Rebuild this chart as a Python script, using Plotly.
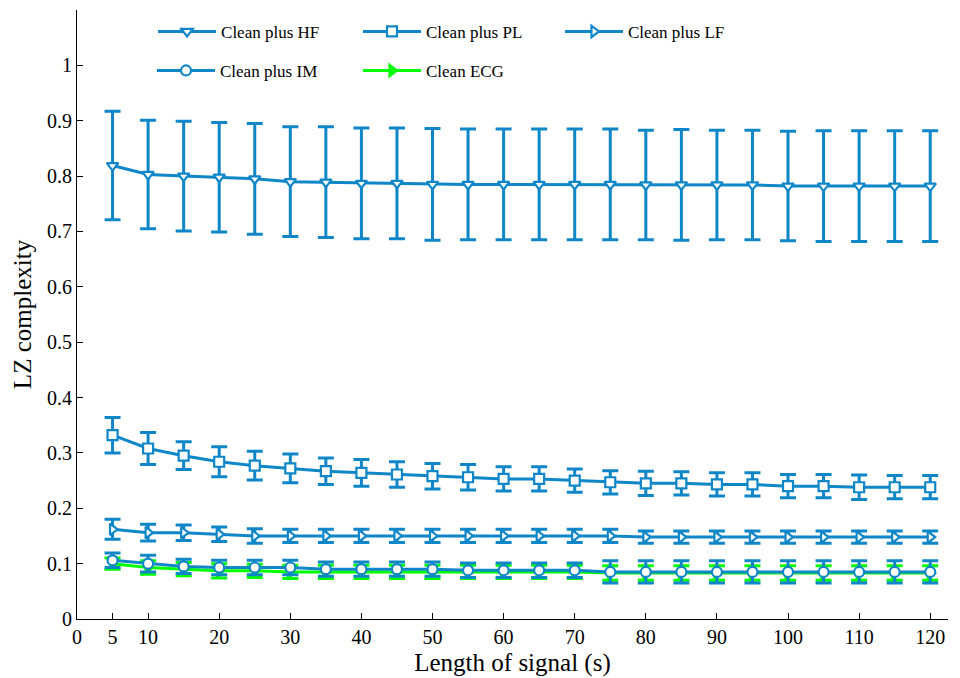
import plotly.graph_objects as go

lengths = [5, 10, 15, 20, 25, 30, 35, 40, 45, 50, 55, 60, 65, 70, 75, 80, 85, 90, 95, 100, 105, 110, 115, 120]

hf_mean = [0.819, 0.803, 0.800, 0.798, 0.795, 0.790, 0.789, 0.787, 0.787, 0.785, 0.785, 0.785, 0.785, 0.785, 0.785, 0.784, 0.784, 0.784, 0.784, 0.782, 0.782, 0.782, 0.782, 0.782]
hf_err = [0.098, 0.098, 0.099, 0.099, 0.100, 0.099, 0.100, 0.100, 0.100, 0.101, 0.100, 0.100, 0.100, 0.100, 0.100, 0.099, 0.100, 0.099, 0.099, 0.099, 0.100, 0.100, 0.100, 0.100]

pl_mean = [0.332, 0.308, 0.295, 0.284, 0.277, 0.272, 0.267, 0.264, 0.261, 0.258, 0.256, 0.253, 0.253, 0.250, 0.247, 0.245, 0.245, 0.243, 0.243, 0.240, 0.240, 0.238, 0.238, 0.238]
pl_err = [0.032, 0.029, 0.025, 0.027, 0.026, 0.026, 0.024, 0.024, 0.023, 0.023, 0.023, 0.022, 0.022, 0.021, 0.021, 0.022, 0.021, 0.021, 0.021, 0.021, 0.021, 0.022, 0.021, 0.021]

lf_mean = [0.162, 0.156, 0.156, 0.153, 0.150, 0.150, 0.150, 0.150, 0.150, 0.150, 0.150, 0.150, 0.150, 0.150, 0.150, 0.148, 0.148, 0.148, 0.148, 0.148, 0.148, 0.148, 0.148, 0.148]
lf_err = [0.018, 0.015, 0.014, 0.013, 0.013, 0.012, 0.012, 0.012, 0.012, 0.012, 0.012, 0.012, 0.012, 0.012, 0.012, 0.011, 0.011, 0.011, 0.011, 0.011, 0.011, 0.011, 0.011, 0.011]

im_mean = [0.106, 0.100, 0.095, 0.093, 0.093, 0.093, 0.090, 0.090, 0.090, 0.090, 0.088, 0.088, 0.088, 0.088, 0.085, 0.085, 0.085, 0.085, 0.085, 0.085, 0.085, 0.085, 0.085, 0.085]
im_err = [0.013, 0.015, 0.013, 0.013, 0.013, 0.013, 0.013, 0.013, 0.013, 0.013, 0.013, 0.013, 0.013, 0.013, 0.020, 0.020, 0.020, 0.020, 0.020, 0.020, 0.020, 0.020, 0.020, 0.020]

ecg_mean = [0.100, 0.093, 0.090, 0.087, 0.087, 0.085, 0.085, 0.085, 0.085, 0.085, 0.085, 0.085, 0.085, 0.085, 0.083, 0.083, 0.083, 0.083, 0.083, 0.083, 0.083, 0.083, 0.083, 0.083]
ecg_err = [0.010, 0.012, 0.012, 0.013, 0.012, 0.012, 0.012, 0.012, 0.012, 0.012, 0.012, 0.012, 0.012, 0.012, 0.013, 0.013, 0.013, 0.013, 0.013, 0.013, 0.013, 0.013, 0.013, 0.013]

x_ticks = [0, 5, 10, 20, 30, 40, 50, 60, 70, 80, 90, 100, 110, 120]
y_ticks = [0, 0.1, 0.2, 0.3, 0.4, 0.5, 0.6, 0.7, 0.8, 0.9, 1]
y_tick_labels = ["0", "0.1", "0.2", "0.3", "0.4", "0.5", "0.6", "0.7", "0.8", "0.9", "1"]

BLUE = "#0f86c8"
GREEN = "#00ff00"
FONT = "Liberation Serif"

fig = go.Figure()


def add(name, y, err, color, symbol, fill, legend):
    fig.add_trace(go.Scatter(
        x=lengths, y=y, name=name, mode="lines+markers",
        line=dict(color=color, width=3),
        marker=dict(symbol=symbol, size=10, color=fill, line=dict(color=color, width=2.2)),
        error_y=dict(type="data", array=err, visible=True, color=color, thickness=3, width=8),
        legend=legend,
    ))


add("Clean ECG", ecg_mean, ecg_err, GREEN, "triangle-right", GREEN, "legend5")
add("Clean plus HF", hf_mean, hf_err, BLUE, "triangle-down", "white", "legend")
add("Clean plus PL", pl_mean, pl_err, BLUE, "square", "white", "legend2")
add("Clean plus LF", lf_mean, lf_err, BLUE, "triangle-right", "white", "legend3")
add("Clean plus IM", im_mean, im_err, BLUE, "circle", "white", "legend4")


def leg(x, y):
    return dict(x=x, y=y, xanchor="left", yanchor="middle", itemwidth=58,
                font=dict(family=FONT, size=17, color="black"), bgcolor="rgba(0,0,0,0)",
                borderwidth=0)


fig.update_layout(
    width=960, height=678,
    margin=dict(l=77, r=12, t=10, b=59, autoexpand=False),
    plot_bgcolor="white", paper_bgcolor="white",
    font=dict(family=FONT, size=20, color="black"),
    showlegend=True,
    legend=leg(0.0873, 0.964),
    legend2=leg(0.3226, 0.964),
    legend3=leg(0.5545, 0.964),
    legend4=leg(0.0861, 0.900),
    legend5=leg(0.3226, 0.900),
    xaxis=dict(range=[0, 122.5], tickvals=x_ticks, ticktext=[str(v) for v in x_ticks],
               ticks="inside", ticklen=6, tickcolor="black", showline=True, linecolor="black",
               linewidth=1.2, showgrid=False, zeroline=False, automargin=False,
               tickfont=dict(family=FONT, size=20, color="black"),
               title=dict(text="Length of signal (s)", font=dict(family=FONT, size=25, color="black"), standoff=6)),
    yaxis=dict(range=[0, 1.1], tickvals=y_ticks, ticktext=y_tick_labels,
               ticks="inside", ticklen=6, tickcolor="black", showline=True, linecolor="black",
               linewidth=1.2, showgrid=False, zeroline=False, automargin=False,
               tickfont=dict(family=FONT, size=20, color="black"),
               title=dict(text="LZ complexity", font=dict(family=FONT, size=25, color="black"), standoff=8)),
)

fig.write_html("out.html", config={"displayModeBar": False},
               post_script="document.body.style.margin='0';document.body.style.padding='0';")
